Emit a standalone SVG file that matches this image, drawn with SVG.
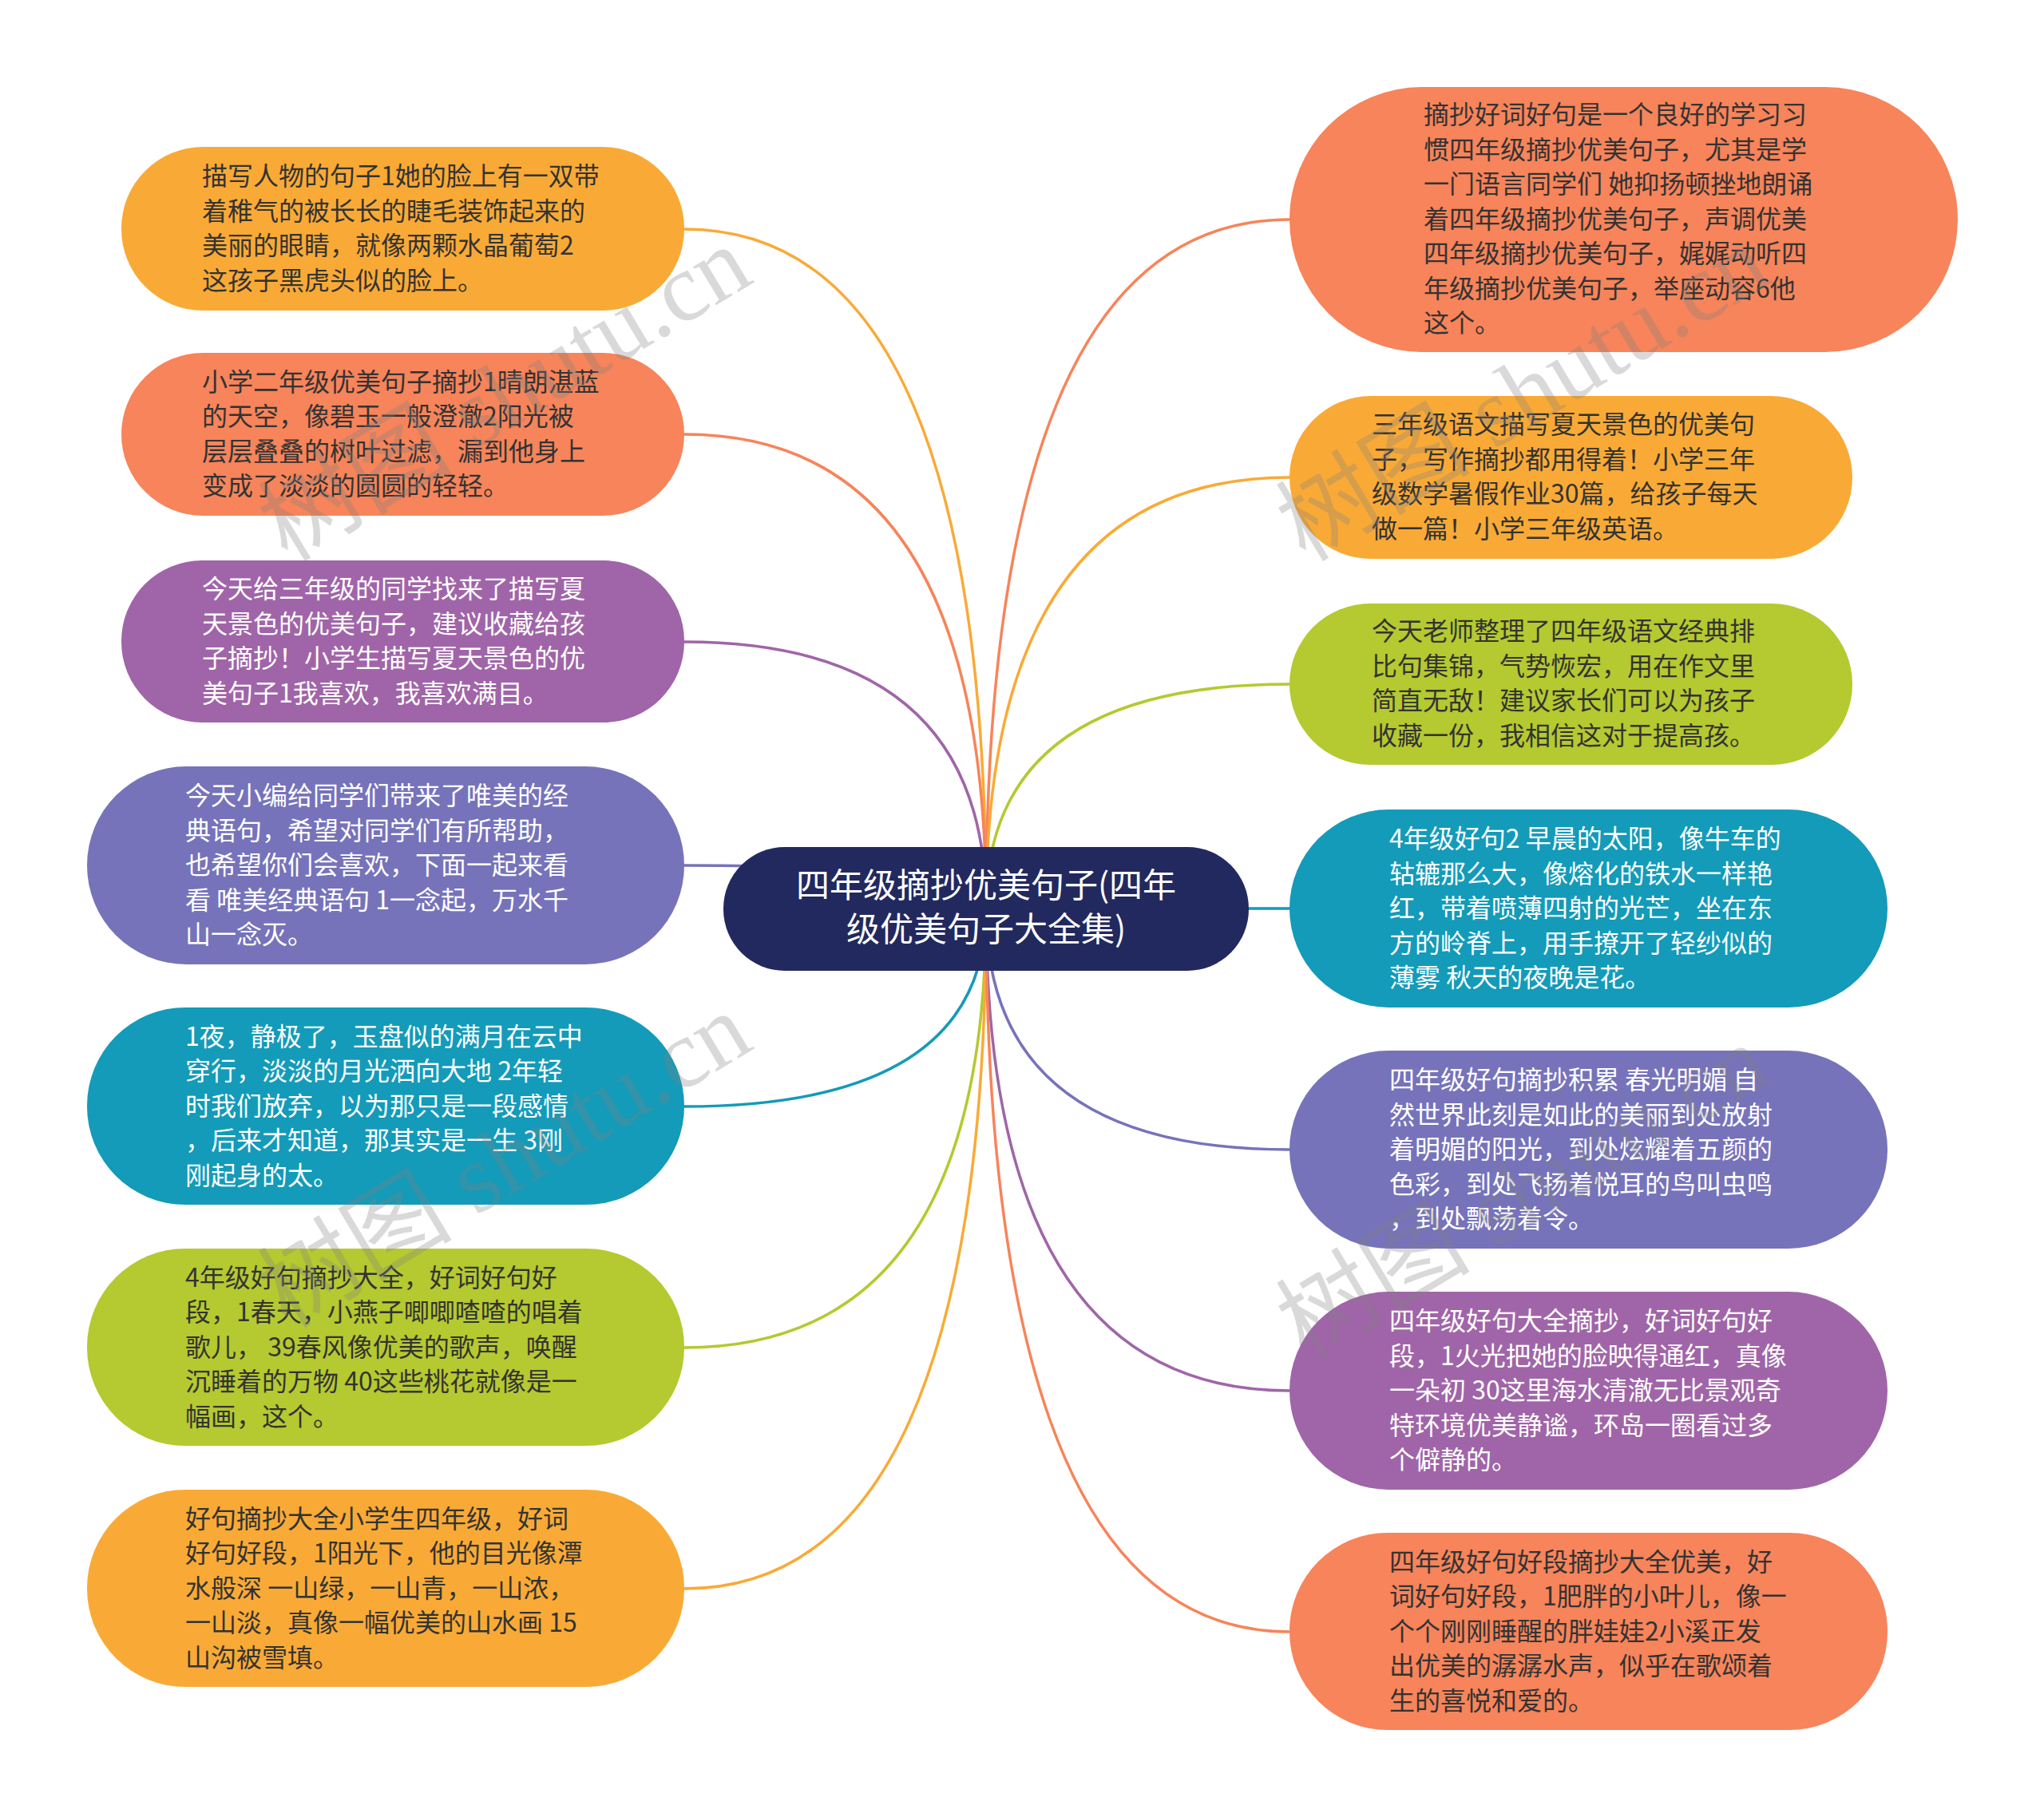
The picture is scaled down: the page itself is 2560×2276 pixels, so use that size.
<svg xmlns="http://www.w3.org/2000/svg" width="2560" height="2276" viewBox="0 0 2560 2276">
<style>
.t{font-family:"Noto Sans CJK SC","Noto Sans",sans-serif;font-size:32px}
.ct{font-family:"Noto Sans CJK SC","Noto Sans",sans-serif;font-size:42px;fill:#ffffff}
.dk{fill:#333333}
.wt{fill:#ffffff}
.c{fill:none;stroke-width:3.5;stroke-linecap:round}
.wm{font-family:"Liberation Serif","Noto Sans CJK SC",serif;font-size:122px;fill:#808080;fill-opacity:0.3}
</style>
<rect width="2560" height="2276" fill="#ffffff"/>
<g id="connectors">
<path class="c" stroke="#F9AA36" d="M1235 1138 Q1235 287 857 287"/>
<path class="c" stroke="#F7845A" d="M1235 1138 Q1235 544 857 544"/>
<path class="c" stroke="#A065A8" d="M1235 1138 Q1235 804 857 804"/>
<path class="c" stroke="#7673BA" d="M1235 1138 Q1235 1084 857 1084"/>
<path class="c" stroke="#139BB9" d="M1235 1138 Q1235 1386 857 1386"/>
<path class="c" stroke="#B5C930" d="M1235 1138 Q1235 1688 857 1688"/>
<path class="c" stroke="#F9AA36" d="M1235 1138 Q1235 1990 857 1990"/>
<path class="c" stroke="#F7845A" d="M1235 1138 Q1235 275 1615 275"/>
<path class="c" stroke="#F9AA36" d="M1235 1138 Q1235 598 1615 598"/>
<path class="c" stroke="#B5C930" d="M1235 1138 Q1235 857 1615 857"/>
<path class="c" stroke="#139BB9" d="M1235 1138 L1615 1138"/>
<path class="c" stroke="#7673BA" d="M1235 1138 Q1235 1440 1615 1440"/>
<path class="c" stroke="#A065A8" d="M1235 1138 Q1235 1742 1615 1742"/>
<path class="c" stroke="#F7845A" d="M1235 1138 Q1235 2044 1615 2044"/>
</g>
<g id="center">
<rect x="906" y="1061" width="658" height="155" rx="77" fill="#22295E"/>
<text class="ct" text-anchor="middle"><tspan x="1235" y="1124">四年级摘抄优美句子(四年</tspan><tspan x="1235" y="1179">级优美句子大全集)</tspan></text>
</g>
<g id="L1">
<rect x="152" y="184" width="705" height="205" rx="102" fill="#F9AA36"/>
<text class="t dk"><tspan x="253" y="232">描写人物的句子1她的脸上有一双带</tspan><tspan x="253" y="276">着稚气的被长长的睫毛装饰起来的</tspan><tspan x="253" y="319">美丽的眼睛，就像两颗水晶葡萄2</tspan><tspan x="253" y="363">这孩子黑虎头似的脸上。</tspan></text>
</g>
<g id="L2">
<rect x="152" y="442" width="705" height="204" rx="102" fill="#F7845A"/>
<text class="t dk"><tspan x="253" y="490">小学二年级优美句子摘抄1晴朗湛蓝</tspan><tspan x="253" y="533">的天空，像碧玉一般澄澈2阳光被</tspan><tspan x="253" y="577">层层叠叠的树叶过滤，漏到他身上</tspan><tspan x="253" y="620">变成了淡淡的圆圆的轻轻。</tspan></text>
</g>
<g id="L3">
<rect x="152" y="702" width="705" height="203" rx="101" fill="#A065A8"/>
<text class="t wt"><tspan x="253" y="749">今天给三年级的同学找来了描写夏</tspan><tspan x="253" y="793">天景色的优美句子，建议收藏给孩</tspan><tspan x="253" y="836">子摘抄！小学生描写夏天景色的优</tspan><tspan x="253" y="880">美句子1我喜欢，我喜欢满目。</tspan></text>
</g>
<g id="L4">
<rect x="109" y="960" width="748" height="248" rx="124" fill="#7673BA"/>
<text class="t wt"><tspan x="232" y="1008">今天小编给同学们带来了唯美的经</tspan><tspan x="232" y="1052">典语句，希望对同学们有所帮助，</tspan><tspan x="232" y="1095">也希望你们会喜欢，下面一起来看</tspan><tspan x="232" y="1139">看 唯美经典语句 1一念起，万水千</tspan><tspan x="232" y="1182">山一念灭。</tspan></text>
</g>
<g id="L5">
<rect x="109" y="1262" width="748" height="247" rx="123" fill="#139BB9"/>
<text class="t wt"><tspan x="232" y="1310">1夜，静极了，玉盘似的满月在云中</tspan><tspan x="232" y="1353">穿行，淡淡的月光洒向大地 2年轻</tspan><tspan x="232" y="1397">时我们放弃，以为那只是一段感情</tspan><tspan x="232" y="1440">，后来才知道，那其实是一生 3刚</tspan><tspan x="232" y="1484">刚起身的太。</tspan></text>
</g>
<g id="L6">
<rect x="109" y="1564" width="748" height="247" rx="123" fill="#B5C930"/>
<text class="t dk"><tspan x="232" y="1612">4年级好句摘抄大全，好词好句好</tspan><tspan x="232" y="1655">段，1春天，小燕子唧唧喳喳的唱着</tspan><tspan x="232" y="1699">歌儿， 39春风像优美的歌声，唤醒</tspan><tspan x="232" y="1742">沉睡着的万物 40这些桃花就像是一</tspan><tspan x="232" y="1786">幅画，这个。</tspan></text>
</g>
<g id="L7">
<rect x="109" y="1866" width="748" height="247" rx="123" fill="#F9AA36"/>
<text class="t dk"><tspan x="232" y="1914">好句摘抄大全小学生四年级，好词</tspan><tspan x="232" y="1957">好句好段，1阳光下，他的目光像潭</tspan><tspan x="232" y="2001">水般深 一山绿，一山青，一山浓，</tspan><tspan x="232" y="2044">一山淡，真像一幅优美的山水画 15</tspan><tspan x="232" y="2088">山沟被雪填。</tspan></text>
</g>
<g id="R1">
<rect x="1615" y="109" width="837" height="332" rx="166" fill="#F7845A"/>
<text class="t dk"><tspan x="1783" y="155">摘抄好词好句是一个良好的学习习</tspan><tspan x="1783" y="199">惯四年级摘抄优美句子，尤其是学</tspan><tspan x="1783" y="242">一门语言同学们 她抑扬顿挫地朗诵</tspan><tspan x="1783" y="286">着四年级摘抄优美句子，声调优美</tspan><tspan x="1783" y="329">四年级摘抄优美句子，娓娓动听四</tspan><tspan x="1783" y="373">年级摘抄优美句子，举座动容6他</tspan><tspan x="1783" y="416">这个。</tspan></text>
</g>
<g id="R2">
<rect x="1615" y="496" width="705" height="204" rx="102" fill="#F9AA36"/>
<text class="t dk"><tspan x="1718" y="543">三年级语文描写夏天景色的优美句</tspan><tspan x="1718" y="587">子，写作摘抄都用得着！小学三年</tspan><tspan x="1718" y="630">级数学暑假作业30篇，给孩子每天</tspan><tspan x="1718" y="674">做一篇！小学三年级英语。</tspan></text>
</g>
<g id="R3">
<rect x="1615" y="756" width="705" height="202" rx="101" fill="#B5C930"/>
<text class="t dk"><tspan x="1718" y="802">今天老师整理了四年级语文经典排</tspan><tspan x="1718" y="846">比句集锦，气势恢宏，用在作文里</tspan><tspan x="1718" y="889">简直无敌！建议家长们可以为孩子</tspan><tspan x="1718" y="933">收藏一份，我相信这对于提高孩。</tspan></text>
</g>
<g id="R4">
<rect x="1615" y="1014" width="749" height="248" rx="124" fill="#139BB9"/>
<text class="t wt"><tspan x="1740" y="1062">4年级好句2 早晨的太阳，像牛车的</tspan><tspan x="1740" y="1106">轱辘那么大，像熔化的铁水一样艳</tspan><tspan x="1740" y="1149">红，带着喷薄四射的光芒，坐在东</tspan><tspan x="1740" y="1193">方的岭脊上，用手撩开了轻纱似的</tspan><tspan x="1740" y="1236">薄雾 秋天的夜晚是花。</tspan></text>
</g>
<g id="R5">
<rect x="1615" y="1316" width="749" height="248" rx="124" fill="#7673BA"/>
<text class="t wt"><tspan x="1740" y="1364">四年级好句摘抄积累 春光明媚 自</tspan><tspan x="1740" y="1408">然世界此刻是如此的美丽到处放射</tspan><tspan x="1740" y="1451">着明媚的阳光，到处炫耀着五颜的</tspan><tspan x="1740" y="1495">色彩，到处飞扬着悦耳的鸟叫虫鸣</tspan><tspan x="1740" y="1538">，到处飘荡着令。</tspan></text>
</g>
<g id="R6">
<rect x="1615" y="1618" width="749" height="248" rx="124" fill="#A065A8"/>
<text class="t wt"><tspan x="1740" y="1666">四年级好句大全摘抄，好词好句好</tspan><tspan x="1740" y="1710">段，1火光把她的脸映得通红，真像</tspan><tspan x="1740" y="1753">一朵初 30这里海水清澈无比景观奇</tspan><tspan x="1740" y="1797">特环境优美静谧，环岛一圈看过多</tspan><tspan x="1740" y="1840">个僻静的。</tspan></text>
</g>
<g id="R7">
<rect x="1615" y="1920" width="749" height="247" rx="123" fill="#F7845A"/>
<text class="t dk"><tspan x="1740" y="1968">四年级好句好段摘抄大全优美，好</tspan><tspan x="1740" y="2011">词好句好段，1肥胖的小叶儿，像一</tspan><tspan x="1740" y="2055">个个刚刚睡醒的胖娃娃2小溪正发</tspan><tspan x="1740" y="2098">出优美的潺潺水声，似乎在歌颂着</tspan><tspan x="1740" y="2142">生的喜悦和爱的。</tspan></text>
</g>
<g id="watermarks">
<text class="wm" transform="translate(360 705) rotate(-31)">树图 shutu.cn</text>
<text class="wm" transform="translate(1635 705) rotate(-31)">树图 shutu.cn</text>
<text class="wm" transform="translate(360 1665) rotate(-31)">树图 shutu.cn</text>
<text class="wm" transform="translate(1635 1705) rotate(-31)">树图 shutu.cn</text>
</g>
</svg>
